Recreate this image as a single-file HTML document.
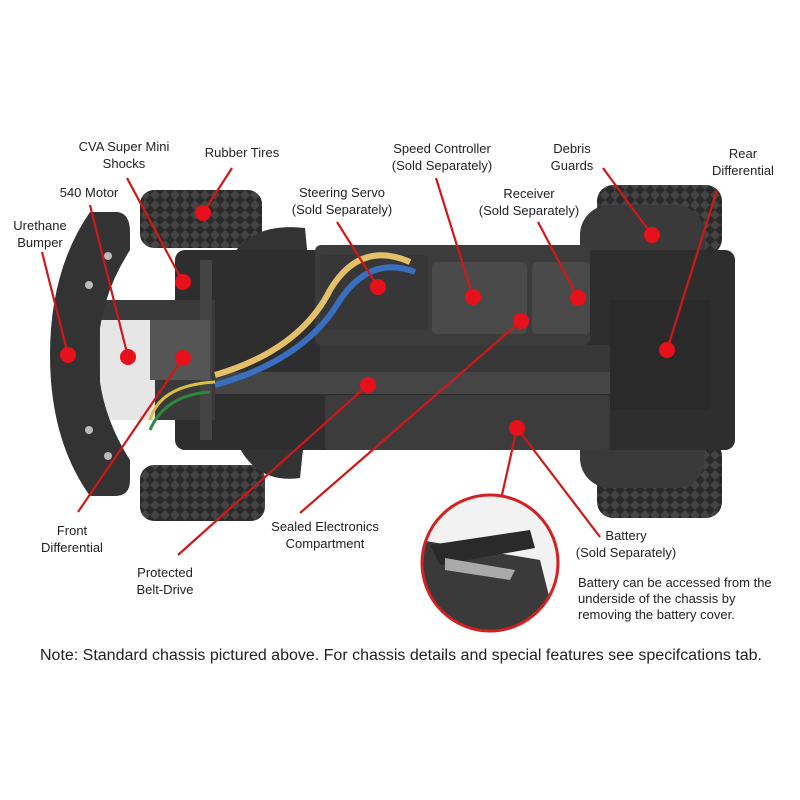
<!DOCTYPE html>
<html><head><meta charset="utf-8"><style>
html,body{margin:0;padding:0;background:#fff}
svg{display:block}
text{font-family:"Liberation Sans",sans-serif;font-size:13px;fill:#222}
</style></head><body>
<svg width="800" height="800" viewBox="0 0 800 800">
<defs>
<pattern id="tread" width="10" height="10" patternUnits="userSpaceOnUse">
<rect width="10" height="10" fill="#2a2a2a"/><path d="M0 5 L5 0 L10 5 L5 10Z" fill="#444"/></pattern>
<clipPath id="ic"><circle cx="490" cy="563" r="68"/></clipPath>
</defs>
<!-- tires -->
<rect x="140" y="190" width="122" height="58" rx="14" fill="url(#tread)"/>
<rect x="140" y="465" width="125" height="56" rx="14" fill="url(#tread)"/>
<rect x="597" y="185" width="125" height="70" rx="16" fill="url(#tread)"/>
<rect x="597" y="440" width="125" height="78" rx="16" fill="url(#tread)"/>
<!-- debris guards -->
<rect x="580" y="205" width="125" height="110" rx="30" fill="#3a3a3a"/>
<rect x="580" y="380" width="125" height="108" rx="30" fill="#3a3a3a"/>
<path d="M230 260 Q250 222 305 228 L310 280 L240 290Z" fill="#333"/>
<path d="M232 430 Q250 485 300 478 L305 430Z" fill="#333"/>
<!-- chassis main -->
<rect x="175" y="250" width="560" height="200" rx="10" fill="#2e2e2e"/>
<rect x="315" y="245" width="275" height="100" rx="6" fill="#3c3c3c"/>
<rect x="432" y="262" width="95" height="72" rx="5" fill="#4a4a4a"/>
<rect x="532" y="262" width="58" height="72" rx="5" fill="#4a4a4a"/>
<rect x="320" y="255" width="108" height="75" rx="4" fill="#373737"/>
<rect x="320" y="345" width="290" height="30" fill="#383838"/>
<rect x="180" y="372" width="460" height="22" fill="#454545"/>
<rect x="325" y="395" width="285" height="55" rx="4" fill="#3c3c3c"/>
<rect x="610" y="300" width="100" height="110" fill="#2a2a2a"/>
<!-- front gear -->
<rect x="95" y="300" width="120" height="120" fill="#3a3a3a"/>
<rect x="100" y="320" width="55" height="100" fill="#e6e6e6"/>
<rect x="200" y="260" width="12" height="180" fill="#444"/>
<rect x="150" y="320" width="60" height="60" fill="#555"/>
<!-- wires -->
<path d="M215 375 Q300 350 330 290 Q360 240 410 262" stroke="#e5c06a" stroke-width="6" fill="none"/>
<path d="M215 385 Q305 360 340 300 Q370 255 415 272" stroke="#3a6fc0" stroke-width="6" fill="none"/>
<path d="M150 420 Q160 385 215 382" stroke="#d8c040" stroke-width="3" fill="none"/>
<path d="M150 430 Q165 395 210 392" stroke="#2a8a3a" stroke-width="3" fill="none"/>
<!-- bumper -->
<path d="M90 212 L118 212 Q130 214 130 232 L130 250 Q98 300 98 355 Q98 410 130 460 L130 480 Q130 496 115 496 L90 496 Q50 440 50 355 Q50 270 90 212Z" fill="#333"/>
<circle cx="108" cy="256" r="4" fill="#bbb"/><circle cx="89" cy="285" r="4" fill="#bbb"/>
<circle cx="89" cy="430" r="4" fill="#bbb"/><circle cx="108" cy="456" r="4" fill="#bbb"/>
<!-- inset -->
<g clip-path="url(#ic)">
<rect x="420" y="495" width="140" height="140" fill="#f2f2f2"/>
<path d="M420 540 L540 560 L560 640 L420 640Z" fill="#3a3a3a"/>
<path d="M430 545 L530 530 L535 548 L440 565Z" fill="#2a2a2a"/>
<path d="M445 558 L515 570 L510 580 L445 570Z" fill="#aaa"/>
</g>
<circle cx="490" cy="563" r="68" fill="none" stroke="#d42020" stroke-width="3"/>
<!-- leaders -->
<g stroke="#d01818" stroke-width="2.2" fill="none">
<line x1="42" y1="252" x2="68" y2="355"/>
<line x1="90" y1="205" x2="128" y2="357"/>
<line x1="127" y1="178" x2="183" y2="282"/>
<line x1="232" y1="168" x2="203" y2="213"/>
<line x1="78" y1="512" x2="183" y2="358"/>
<line x1="178" y1="555" x2="370" y2="383"/>
<line x1="337" y1="222" x2="378" y2="287"/>
<line x1="436" y1="178" x2="473" y2="297"/>
<line x1="538" y1="222" x2="578" y2="298"/>
<line x1="300" y1="513" x2="521" y2="321"/>
<line x1="603" y1="168" x2="652" y2="235"/>
<line x1="717" y1="190" x2="667" y2="350"/>
<line x1="517" y1="428" x2="600" y2="537"/>
<line x1="517" y1="428" x2="502" y2="495"/>
</g>
<g fill="#e8101a">
<circle cx="68" cy="355" r="8"/><circle cx="128" cy="357" r="8"/><circle cx="183" cy="282" r="8"/>
<circle cx="203" cy="213" r="8"/><circle cx="183" cy="358" r="8"/><circle cx="378" cy="287" r="8"/>
<circle cx="473" cy="297" r="8"/><circle cx="578" cy="298" r="8"/><circle cx="521" cy="321" r="8"/>
<circle cx="652" cy="235" r="8"/><circle cx="667" cy="350" r="8"/><circle cx="368" cy="385" r="8"/>
<circle cx="517" cy="428" r="8"/>
</g>
<!-- labels -->
<g text-anchor="middle">
<text x="124" y="151">CVA Super Mini</text><text x="124" y="168">Shocks</text>
<text x="242" y="157">Rubber Tires</text>
<text x="89" y="197">540 Motor</text>
<text x="40" y="230">Urethane</text><text x="40" y="247">Bumper</text>
<text x="342" y="197">Steering Servo</text><text x="342" y="214">(Sold Separately)</text>
<text x="442" y="153">Speed Controller</text><text x="442" y="170">(Sold Separately)</text>
<text x="529" y="198">Receiver</text><text x="529" y="215">(Sold Separately)</text>
<text x="572" y="153">Debris</text><text x="572" y="170">Guards</text>
<text x="743" y="158">Rear</text><text x="743" y="175">Differential</text>
<text x="72" y="535">Front</text><text x="72" y="552">Differential</text>
<text x="325" y="531">Sealed Electronics</text><text x="325" y="548">Compartment</text>
<text x="165" y="577">Protected</text><text x="165" y="594">Belt-Drive</text>
<text x="626" y="540">Battery</text><text x="626" y="557">(Sold Separately)</text>
</g>
<text x="578" y="587">Battery can be accessed from the</text>
<text x="578" y="603">underside of the chassis by</text>
<text x="578" y="619">removing the battery cover.</text>
<text x="40" y="660" style="font-size:15.4px" textLength="722" lengthAdjust="spacingAndGlyphs">Note: Standard chassis pictured above. For chassis details and special features see specifcations tab.</text>
</svg>
</body></html>
